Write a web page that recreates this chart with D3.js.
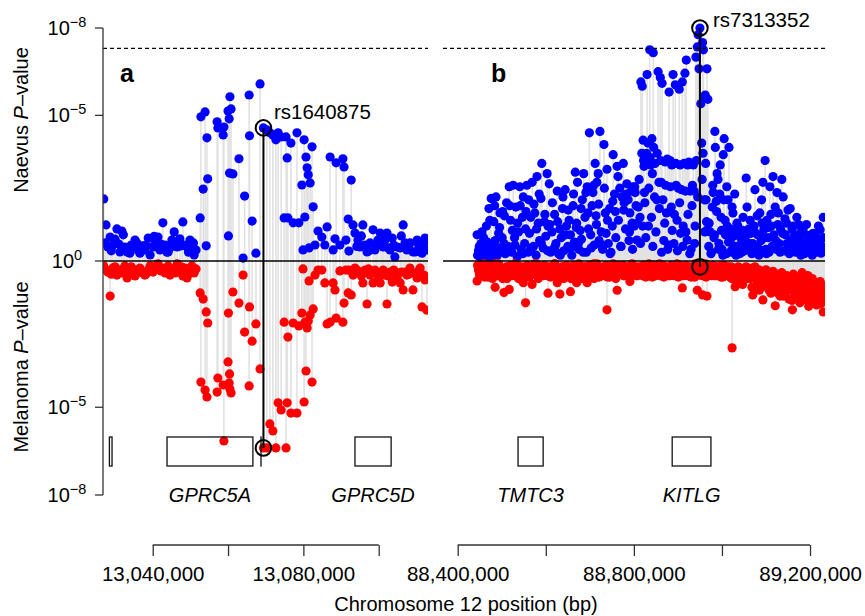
<!DOCTYPE html>
<html><head><meta charset="utf-8">
<script src="https://cdn.jsdelivr.net/npm/d3@7"></script>
<style>
body{margin:0;background:#fff}
svg{display:block}
text{font-family:"Liberation Sans",Arial,Helvetica,sans-serif;fill:#000}
</style>
</head><body>
<svg id="chart" width="865" height="616"></svg>
<script>
// ---------------- DATA ----------------
// Panel a: positions (kb), naevus -log10 P, melanoma -log10 P
const posA_kb = [
13027.0,13027.6,13028.1,13028.7,13029.4,13030.5,13031.3,13031.8,13032.6,13033.2,
13033.9,13034.7,13035.3,13035.8,13036.6,13037.4,13037.9,13038.8,13039.3,13040.1,
13040.6,13041.4,13041.9,13042.7,13043.3,13044.1,13044.6,13045.1,13045.7,13046.5,
13047.2,13048.0,13048.6,13049.1,13049.9,13050.4,13051.0,13051.5,
13052.6,13052.8,13053.4,13053.9,13054.2,13054.4,13054.6,13057.1,13057.3,13058.7,
13058.9,13060.0,13060.3,13060.1,13060.5,13060.8,13060.4,13061.3,13062.9,13064.0,
13064.4,13065.6,13065.7,13066.4,13067.4,13068.5,
13069.4,13070.3,13071.1,13071.9,13072.7,13073.3,13074.1,13074.9,13075.4,13075.7,
13075.9,13076.7,13077.3,13078.3,13078.8,13079.6,13079.9,13080.2,13080.4,13080.7,
13081.0,13081.3,13081.5,13081.8,13082.3,13082.6,13083.1,13083.9,13084.9,13085.7,
13086.3,13087.1,13087.9,13088.4,13088.7,13089.7,13090.5,13090.8,13091.3,13091.9,
13092.1,13092.7,13093.2,
13093.7,13094.5,13095.0,13095.8,13096.4,13096.9,13097.7,13098.5,13099.0,13099.8,
13100.4,13101.2,13101.7,13102.2,13103.0,13103.6,13104.3,13104.9,13105.7,13106.5,
13107.0,13107.5,13108.3,13109.1,13109.7,13110.2,13111.0,13111.5,13112.3,13112.8,
13027.3,13029.0,13030.0,13031.0,13032.2,13034.3,13036.2,13038.2,13040.4,13042.2,13043.8,13046.0,13047.6,13049.5,13050.8,
13094.2,13095.4,13097.3,13099.4,13100.9,13102.6,13104.0,13106.0,13108.0,13110.6,13112.0];
const naevusA = [
2.13,1.24,0.48,0.82,0.55,1.10,0.31,1.03,0.48,0.31,
0.27,0.45,0.72,0.62,0.27,0.52,0.38,0.79,0.21,0.48,
0.62,0.82,0.38,1.31,0.55,0.31,0.45,0.72,1.00,0.48,
0.76,1.34,0.55,0.48,0.72,0.48,0.21,0.38,
1.48,4.95,2.47,5.12,0.52,4.23,2.82,4.78,4.57,4.33,
4.60,5.15,4.88,0.86,5.64,5.22,3.02,2.99,3.51,0.10,
2.23,5.70,4.30,1.37,0.27,6.08,
4.57,4.50,4.40,4.33,4.16,4.40,4.26,1.48,4.26,3.54,
1.48,4.05,1.31,4.40,1.31,2.61,0.38,4.16,1.51,3.57,
3.20,2.96,0.45,2.68,3.92,1.86,0.55,1.03,0.82,0.55,
1.17,3.57,0.38,0.76,3.37,0.55,3.51,3.23,0.72,1.44,
0.34,2.78,1.24,
0.96,0.72,0.48,1.24,0.55,0.31,0.62,1.07,0.38,0.72,
0.96,0.48,0.72,0.96,0.38,0.79,0.14,0.48,0.45,1.24,
0.62,0.38,0.62,0.31,0.31,0.72,0.48,0.27,0.79,0.38,
0.62,0.35,0.75,0.58,0.9,0.55,0.35,0.55,0.85,0.58,0.3,0.62,0.52,0.3,0.62,
0.5,0.86,0.34,0.55,0.62,0.45,0.55,0.86,0.52,0.55,0.62];
const melanomaA = [
0.17,0.31,0.38,1.20,0.24,0.48,0.31,0.41,0.17,0.58,
0.34,0.27,0.51,0.38,0.24,0.41,0.48,0.31,0.17,0.38,
0.27,0.10,0.31,0.24,0.41,0.17,0.48,0.27,0.38,0.10,
0.31,0.51,0.24,0.58,0.34,0.17,0.41,0.27,
1.09,4.14,1.30,4.41,1.74,4.65,2.12,4.48,4.00,4.24,
6.15,3.45,4.17,1.78,4.38,4.51,3.86,1.06,1.44,0.48,
2.43,4.27,1.57,2.74,2.15,3.69,
6.39,6.39,5.57,5.81,6.39,4.85,5.09,2.09,6.39,4.85,
2.60,5.20,2.12,5.20,2.22,1.78,0.27,4.82,2.09,3.76,
2.29,2.05,0.68,1.85,4.14,1.64,0.48,0.31,0.31,0.75,
2.15,2.09,0.75,0.99,1.95,0.34,2.09,1.44,0.31,1.09,
0.31,1.16,0.48,
0.24,0.38,0.38,0.75,0.31,1.47,0.48,0.75,0.31,0.65,
0.75,0.31,0.48,1.47,0.38,0.72,0.38,0.58,0.75,0.99,
0.38,0.48,0.24,0.99,0.41,0.58,0.24,1.57,0.65,1.68,
0.27,0.45,0.2,0.38,0.27,0.2,0.38,0.45,0.2,0.34,0.27,0.41,0.2,0.45,0.31,
0.31,0.51,0.27,0.41,0.45,0.51,0.31,0.38,0.45,0.34,0.48];

// Panel b (main SNP list)
const posB_kb = [
88444,88447,88450,88453,88456,88459,88462,88465,88468,88471,88474,88476,88479,88482,88485,88487,88490,88493,88496,88499,88502,88505,88508,
88511,88514,88517,88520,88523,88526,88529,88532,88535,88538,88541,88544,88547,88549,88552,88554,88557,88560,88563,88566,88569,88572,88575,88578,88580,88583,88586,88589,88591,88594,88597,88600,88603,88605,88608,88611,
88614,88617,88620,88623,88626,88629,88632,88635,88638,88641,88644,88647,88650,88653,88656,88659,88662,88665,88667,88670,88672,88675,88678,88681,88683,88686,88689,88692,88694,88696,88699,88702,88705,88707,88710,88712,88715,88716,88719,88721,88723,
88726,88729,88732,88735,88737,88739,88742,88745,88748,88751,88753,88756,88759,88762,88765,88768,88770,88773,88776,88778,88781,88784,88787,88789,88791,88794,88796,88798,88801,88803,88805,88807,88810,88812,88814,
88816,88818,88819,88820,88821,88822,88823,88825,88827,88829,
88830,88832,88834,88836,88837,88838,88840,88841,88842,88844,
88845,88847,88848,88850,88853,88855,88857,88858,88860,88861,
88862,88864,88866,88868,88871,88872,88874,88877,88880,88882,
88883,88885,88887,88889,88891,88894,88895,88896,88898,88901,
88903,88905,88906,88908,88910,88912,88914,88916,88917,88919,
88921,88923,88925,88928,88930,88932,88935,88937,88939,88941,
88942,88944,88946,88948,88950,88952,88954,88955,88956,88957,
88958,88959,88960,88961,88962,88963,88964,88965,88966,88967,88968,
88970,88973,88976,88978,88980,88982,88984,88985,88987,88989,88991,88993,88996,88998,89000,89003,89004,89005,89008,89010,89012,89014,89016,89019,89021,89023,89025,89027,89030,89032,89034,89037,89039,89042,89045,89048,89050,
89053,89055,89058,89061,89064,89066,89069,89070,89073,89075,89078,89081,89084,89086,89089,89091,89093,89095,89098,89100,89102,89105,89107,89109,89112,89114,89116,89118,89121,89123,89125,89128,89130,89133,89136,89139,89141,89144,89147,89150,89152,
89155,89157,89160,89162,89165,89167,89170,89172,89175,89177,89180,89182,89184,89187,89190,89193,89195,89198,89200,89203,89205,89207,89210,89213,89215,89218,89220,89223,89225,89228,89230,89232];
const naevusB = [
0.9,0.35,0.15,0.6,0.25,0.8,0.4,1.2,0.1,1.8,0.5,2.15,0.3,1.35,0.7,2.2,0.2,0.95,1.65,0.45,1.7,0.6,0.25,
2.0,0.5,2.55,1.4,0.3,2.6,0.8,1.85,0.15,1.0,2.55,0.4,1.5,2.2,0.6,1.1,2.6,0.3,0.95,1.5,2.7,0.5,1.65,0.2,2.9,1.3,0.7,2.15,3.35,0.45,1.35,0.85,3.0,1.2,2.65,0.3,
1.0,0.4,1.6,0.6,2.4,0.25,1.1,0.8,1.8,0.35,2.45,1.2,0.5,1.4,0.9,0.2,1.9,0.65,3.05,1.3,2.7,0.4,1.05,0.75,2.1,3.0,1.5,0.3,2.55,1.65,4.4,0.9,1.9,2.35,0.55,3.35,1.25,2.7,3.0,0.7,4.45,
1.0,0.4,4.0,1.65,0.95,3.15,0.6,1.8,0.3,1.2,3.65,2.3,0.8,3.25,1.4,2.5,0.5,2.2,3.35,2.0,1.1,2.65,2.1,0.7,1.65,2.4,1.3,2.55,1.2,2.35,1.9,0.72,1.85,2.8,1.5,
6.15,3.7,6.0,1.2,4.15,3.45,3.25,2.0,0.8,3.7,
6.4,4.05,2.5,7.25,3.55,3.3,1.5,4.2,3.0,7.15,
3.9,2.2,3.35,1.0,3.7,6.5,2.7,1.8,6.3,3.45,
2.7,6.1,2.1,0.7,3.4,2.6,1.65,0.4,5.8,3.45,
2.55,1.85,1.05,6.4,0.6,6.05,3.35,2.6,1.4,2.5,
5.9,3.3,0.95,2.45,6.15,1.2,3.35,6.45,2.4,6.9,
0.72,1.6,3.4,2.4,0.4,1.9,3.3,2.4,1.2,7.0,
3.45,7.35,7.77,6.6,8.0,5.4,4.05,2.8,7.5,3.7,
7.25,5.6,2.1,1.0,5.7,3.35,2.1,1.35,6.6,1.07,5.55,
0.5,1.0,0.3,1.85,2.35,0.8,4.45,3.9,2.05,3.0,2.8,0.6,3.3,1.5,0.4,3.65,2.1,4.2,0.9,0.25,1.2,2.1,3.9,0.7,0.35,1.85,1.65,0.5,1.1,0.2,1.3,0.95,0.45,1.0,0.3,1.5,0.6,
0.8,2.85,0.4,1.1,1.4,0.95,0.3,0.6,1.2,2.45,0.5,0.9,0.2,1.65,0.7,1.3,2.7,1.07,3.45,0.4,1.4,0.8,0.3,2.55,1.2,0.5,2.9,0.9,1.85,0.4,2.35,1.65,0.6,1.1,2.8,2.2,0.35,0.9,1.3,1.75,0.5,
1.8,0.7,0.4,1.2,0.9,0.3,1.5,0.48,0.8,0.35,1.0,0.6,1.07,0.25,0.9,0.5,0.7,0.3,0.72,0.45,0.2,0.95,0.55,0.3,0.8,0.4,0.6,1.07,0.27,0.5,1.5,0.35];
const melanomaB = [
0.68,0.3,0.5,0.2,0.45,0.1,0.35,0.25,0.55,0.3,0.15,0.4,0.6,0.2,0.9,0.35,0.5,0.1,0.45,0.25,0.6,1.08,0.3,
0.2,0.4,0.97,0.15,0.5,0.3,0.1,0.45,0.25,0.6,0.35,0.2,0.5,0.74,0.3,1.43,0.15,0.4,0.55,0.2,0.8,0.35,0.1,0.45,0.3,0.6,0.25,0.4,0.2,0.5,0.15,0.35,0.45,1.1,0.3,0.55,
0.2,0.4,0.1,0.5,0.74,0.3,1.13,0.45,0.2,0.6,0.35,0.15,0.5,0.25,1.05,0.4,0.3,0.55,0.2,0.74,0.45,0.1,0.35,0.6,0.3,0.2,0.5,0.25,0.74,0.4,0.15,0.5,0.35,0.2,0.6,0.3,0.45,0.1,0.4,0.55,0.25,
0.3,0.5,0.2,0.4,0.15,1.67,0.35,0.55,0.25,0.45,0.1,0.35,0.6,1.0,0.3,0.2,0.45,0.35,0.15,0.5,0.3,0.4,0.2,0.55,0.7,0.35,0.1,0.45,0.3,0.25,0.5,0.35,0.2,0.4,0.3,
0.3,0.45,0.2,0.5,0.35,0.15,0.4,0.25,0.55,0.3,
0.2,0.45,0.1,0.35,0.5,0.25,0.4,0.2,0.55,0.3,
0.15,0.45,0.3,0.5,0.2,0.35,0.4,0.1,0.3,0.5,
0.25,0.4,0.15,0.55,0.35,0.2,0.45,0.3,0.25,0.5,
0.35,0.15,0.4,0.3,0.5,0.2,0.45,0.3,0.1,0.55,
0.35,0.25,0.5,0.4,0.92,0.2,0.35,0.45,0.3,0.15,
0.5,0.25,0.4,0.3,0.55,0.2,0.45,0.35,0.1,0.5,
0.3,1.0,0.4,0.25,0.2,0.35,0.5,0.3,1.16,0.25,
0.3,0.45,0.35,0.2,0.4,0.1,0.55,0.45,1.2,0.3,0.3,
0.4,0.2,0.5,0.35,0.15,0.45,0.3,0.2,0.5,0.35,0.25,0.45,0.3,0.55,0.2,0.4,0.3,0.15,0.5,0.35,0.25,0.45,0.3,0.55,0.2,2.97,0.4,0.3,0.88,0.45,0.35,0.2,0.5,0.3,0.6,0.4,0.25,
0.35,0.2,0.5,0.3,0.6,0.25,0.45,1.16,0.35,0.2,0.55,0.4,0.3,0.65,0.5,0.85,1.33,0.4,0.6,0.3,0.75,0.5,1.0,0.4,0.65,0.9,0.35,0.55,1.53,0.8,0.45,1.1,0.6,0.95,0.4,1.2,0.7,1.05,0.5,0.85,1.3,
0.6,1.0,1.67,0.45,1.2,0.8,0.55,1.1,0.7,1.43,0.9,0.4,1.25,0.65,1.0,1.33,0.5,1.15,0.8,1.4,0.6,1.05,1.3,0.75,1.5,0.95,1.2,0.7,1.45,1.0,1.74,1.3];

// Panel b (additional SNPs of the dense cloud)
const posB2_kb = [
88445,88449,88455,88461,88467,88473,88478,88484,88489,88495,88501,88506,88512,88518,88524,88530,88536,88542,88548,88555,88561,88567,88573,88579,88585,88590,
88598,88604,88609,88615,88621,88627,88633,88639,88645,88651,88657,88663,88669,88674,88680,88685,88691,88697,88703,88709,88714,88720,88727,88733,88740,88746,88752,88758,88764,88771,88777,88783,88790,88797,88802,88808,88815,88824,88833,88843,88852,
88863,88870,88876,88879,88886,88892,88899,88904,88911,88918,88922,88927,88933,88938,88945,
88971,88975,88979,88983,88988,88992,88995,88999,89002,89007,89011,89015,89018,89022,89026,89029,89033,89036,89040,89044,89047,89051,89057,89063,89068,89074,89080,89085,89090,89096,89101,89106,89111,89117,89122,89127,89132,89138,89143,89148,89153,89159,89164,89169,89174,89179,89186,89192,89197,89202,89209,89214,89219,89226,89231];
const naevusB2 = [
0.2,0.5,1.0,0.3,0.65,1.4,0.15,1.9,0.45,1.15,0.8,1.55,0.3,1.9,1.05,0.55,1.3,1.9,0.25,1.7,2.1,0.45,1.95,1.1,2.3,0.6,
1.6,0.35,1.25,2.0,0.5,1.35,0.2,2.2,0.9,1.75,0.45,2.3,1.15,0.6,1.8,0.3,2.35,1.1,0.45,2.6,1.55,1.95,0.55,2.5,1.4,0.25,2.05,1.7,2.9,0.5,1.75,2.3,1.0,0.4,2.55,1.3,0.6,2.35,1.2,0.5,2.1,
0.3,1.3,3.5,0.55,3.3,1.6,0.35,2.0,0.5,1.0,3.3,0.25,2.6,0.6,2.2,
1.3,0.25,2.6,0.9,1.7,0.4,2.3,1.05,0.2,1.4,2.55,0.65,1.1,0.3,0.85,2.3,0.5,1.2,0.25,0.75,1.05,0.35,1.85,0.6,0.25,1.0,1.55,0.4,2.1,0.8,0.25,1.15,1.6,0.45,0.7,1.25,0.3,0.95,1.45,0.6,0.25,1.1,0.45,0.75,1.25,0.2,0.6,1.25,0.4,0.9,0.3,0.65,1.2,0.45,0.8];
const melanomaB2 = [
0.15,0.4,0.3,0.55,0.2,0.45,0.35,0.1,0.5,0.3,0.25,0.45,0.6,0.2,0.35,0.5,0.15,0.4,0.3,0.55,0.2,0.45,0.35,0.1,0.5,0.3,
0.3,0.5,0.2,0.4,0.1,0.55,0.35,0.2,0.45,0.3,0.6,0.15,0.4,0.25,0.5,0.3,0.2,0.45,0.35,0.1,0.5,0.3,0.25,0.4,0.55,0.2,0.35,0.45,0.15,0.3,0.5,0.25,0.4,0.2,0.35,0.5,0.3,0.45,0.2,0.4,0.3,
0.4,0.2,0.35,0.5,0.25,0.45,0.3,0.15,0.5,0.35,0.2,0.4,0.3,0.55,0.25,
0.25,0.45,0.3,0.5,0.2,0.4,0.35,0.15,0.55,0.3,0.45,0.2,0.4,0.6,0.3,0.5,0.7,0.35,0.55,0.45,0.8,0.3,0.6,0.5,0.9,0.4,0.75,1.0,0.55,0.85,0.45,0.7,1.1,0.6,0.95,0.5,1.2,0.75,0.65,1.0,0.85,1.35,0.7,1.15,0.9,1.25,0.8,1.05,1.55,0.9,1.2,1.35,1.0,1.25,0.85];

// Highlighted SNPs
const snpNames = ["rs1640875", "rs7313352"];
const snpPanel = [0, 1];
const snpPos_kb = [13069.4, 88950];
const snpNaevus = [4.57, 8.0];
const snpMelanoma = [6.39, 0.2];

// Genes
const geneNamesA = ["", "GPRC5A", "", "GPRC5D"];
const geneStartA_kb = [13028.5, 13043.8, 13068.75, 13093.7];
const geneEndA_kb = [13029.2, 13066.6, 13068.75, 13103.3];
const geneNamesB = ["TMTC3", "KITLG"];
const geneStartB_kb = [88537, 88887];
const geneEndB_kb = [88594, 88975];

// Axis ticks
const xTicksA = [13040000, 13060000, 13080000, 13100000];
const xTickLabelsA = ["13,040,000", "", "13,080,000", ""];
const xTicksB = [88400000, 88600000, 88800000, 89000000, 89200000];
const xTickLabelsB = ["88,400,000", "", "88,800,000", "", "89,200,000"];
const yTickExponents = [8, 5, 0];
const gwasThreshold = 7.3; // -log10(5e-8)

// ---------------- DRAW ----------------
const svg = d3.select("#chart");
const FONT = '"Liberation Sans",Arial,Helvetica,sans-serif';
const R = 4.6;
const yUp = d3.scaleLinear().domain([0, 8]).range([261, 28]);
const yLow = d3.scaleLinear().domain([0, 8]).range([261, 495]);

function rows(pos, nv, ml) {
  const n = Math.min(pos.length, nv.length, ml.length);
  return d3.range(n).map(k => ({ bp: pos[k] * 1000, nv: nv[k], ml: ml[k] }));
}

const panels = [
  { data: rows(posA_kb, naevusA, melanomaA), dom: [13026800, 13113090], rng: [103, 428],
    ticks: xTicksA, labels: xTickLabelsA, gN: geneNamesA, gS: geneStartA_kb, gE: geneEndA_kb,
    letter: "a", letterX: 120 },
  { data: rows(posB_kb, naevusB, melanomaB).concat(rows(posB2_kb, naevusB2, melanomaB2)),
    dom: [88366600, 89234000], rng: [443, 825],
    ticks: xTicksB, labels: xTickLabelsB, gN: geneNamesB, gS: geneStartB_kb, gE: geneEndB_kb,
    letter: "b", letterX: 491 }
];

const defs = svg.append("defs");
panels.forEach((p, i) => {
  p.x = d3.scaleLinear().domain(p.dom).range(p.rng);
  defs.append("clipPath").attr("id", "clip" + i).append("rect")
    .attr("x", p.rng[0]).attr("y", 0).attr("width", p.rng[1] - p.rng[0]).attr("height", 540);
});

// grey connectors
panels.forEach((p, i) => {
  const g = svg.append("g").attr("clip-path", `url(#clip${i})`);
  g.selectAll("line").data(p.data).join("line")
    .attr("x1", d => p.x(d.bp)).attr("x2", d => p.x(d.bp))
    .attr("y1", d => yUp(d.nv)).attr("y2", d => yLow(d.ml))
    .attr("stroke", "#e2e2e2").attr("stroke-width", 1.6);
});
// blue (naevus) points
panels.forEach((p, i) => {
  const g = svg.append("g").attr("clip-path", `url(#clip${i})`);
  g.selectAll("circle").data(p.data).join("circle")
    .attr("cx", d => p.x(d.bp)).attr("cy", d => yUp(d.nv)).attr("r", R)
    .attr("fill", "#0000ff");
});
// red (melanoma) points
panels.forEach((p, i) => {
  const g = svg.append("g").attr("clip-path", `url(#clip${i})`);
  g.selectAll("circle").data(p.data).join("circle")
    .attr("cx", d => p.x(d.bp)).attr("cy", d => yLow(d.ml)).attr("r", R)
    .attr("fill", "#ff0000");
});

panels.forEach((p, i) => {
  svg.append("line").attr("x1", p.rng[0]).attr("x2", p.rng[1])
    .attr("y1", yUp(0)).attr("y2", yUp(0)).attr("stroke", "#000").attr("stroke-width", 1.3);
  svg.append("line").attr("x1", p.rng[0]).attr("x2", p.rng[1])
    .attr("y1", yUp(gwasThreshold)).attr("y2", yUp(gwasThreshold))
    .attr("stroke", "#000").attr("stroke-width", 1.1).attr("stroke-dasharray", "4,3");
  svg.append("text").attr("x", p.letterX).attr("y", 82).attr("font-size", 25)
    .attr("font-weight", "bold").attr("font-family", FONT).text(p.letter);
  const gg = svg.append("g");
  p.gN.forEach((name, k) => {
    const x0 = p.x(p.gS[k] * 1000), x1 = p.x(p.gE[k] * 1000);
    gg.append("rect").attr("x", x0).attr("y", 437).attr("width", Math.max(x1 - x0, 0.01))
      .attr("height", 29).attr("fill", "none").attr("stroke", "#111").attr("stroke-width", 1.3);
    if (name) {
      gg.append("text").attr("x", (x0 + x1) / 2).attr("y", 502).attr("text-anchor", "middle")
        .attr("font-size", 20).attr("font-style", "italic").attr("font-family", FONT).text(name);
    }
  });
  const ax = svg.append("g").attr("transform", "translate(0,545)")
    .call(d3.axisBottom(p.x).tickValues(p.ticks).tickSize(11).tickPadding(10)
      .tickFormat((d, k) => p.labels[k]));
  ax.select(".domain").remove();
  ax.selectAll(".tick line").attr("stroke", "#333").attr("stroke-width", 1.3);
  ax.selectAll(".tick text").attr("font-size", 20.5).attr("font-family", FONT).attr("fill", "#000");
  ax.append("line").attr("x1", p.x(p.ticks[0])).attr("x2", p.x(p.ticks[p.ticks.length - 1]))
    .attr("y1", 0).attr("y2", 0).attr("stroke", "#333").attr("stroke-width", 1.3);
});

// highlighted SNPs
snpNames.forEach((name, k) => {
  const p = panels[snpPanel[k]];
  const cx = p.x(snpPos_kb[k] * 1000), cyU = yUp(snpNaevus[k]), cyL = yLow(snpMelanoma[k]);
  svg.append("line").attr("x1", cx).attr("x2", cx).attr("y1", cyU).attr("y2", cyL)
    .attr("stroke", "#000").attr("stroke-width", 2);
  [cyU, cyL].forEach(cy => svg.append("circle").attr("cx", cx).attr("cy", cy).attr("r", 7.8)
    .attr("fill", "none").attr("stroke", "#000").attr("stroke-width", 2));
  const off = k === 0 ? [10.5, -9] : [13, -1];
  svg.append("text").attr("x", cx + off[0]).attr("y", cyU + off[1]).attr("font-size", 20.5)
    .attr("font-family", FONT).text(name);
});

// y axis
const yAx = svg.append("g");
yAx.append("line").attr("x1", 103).attr("x2", 103).attr("y1", yUp(8)).attr("y2", yLow(8))
  .attr("stroke", "#333").attr("stroke-width", 1.3);
const yTicks = [];
yTickExponents.forEach(e => yTicks.push(yUp(e)));
yTickExponents.slice(0, 2).forEach(e => yTicks.push(yLow(e)));
const yExps = yTickExponents.concat(yTickExponents.slice(0, 2));
yTicks.forEach((ty, k) => {
  yAx.append("line").attr("x1", 95).attr("x2", 103).attr("y1", ty).attr("y2", ty)
    .attr("stroke", "#333").attr("stroke-width", 1.3);
  const t = yAx.append("text").attr("x", 67).attr("y", ty + 7).attr("text-anchor", "middle")
    .attr("font-size", 20).attr("font-family", FONT);
  t.append("tspan").text("10");
  t.append("tspan").attr("dy", -8).attr("font-size", 14.5)
    .text(yExps[k] === 0 ? "0" : "\u2212" + yExps[k]);
});

function yTitle(cy, word) {
  const t = svg.append("text").attr("transform", `translate(28,${cy}) rotate(-90)`)
    .attr("text-anchor", "middle").attr("font-size", 20).attr("font-family", FONT);
  t.append("tspan").text(word + " ");
  t.append("tspan").attr("font-style", "italic").text("P");
  t.append("tspan").text("\u2013value");
}
yTitle(120, "Naevus");
yTitle(367, "Melanoma");

svg.append("text").attr("x", 466).attr("y", 611).attr("text-anchor", "middle")
  .attr("font-size", 20).attr("font-family", FONT).text("Chromosome 12 position (bp)");
</script>
</body></html>
